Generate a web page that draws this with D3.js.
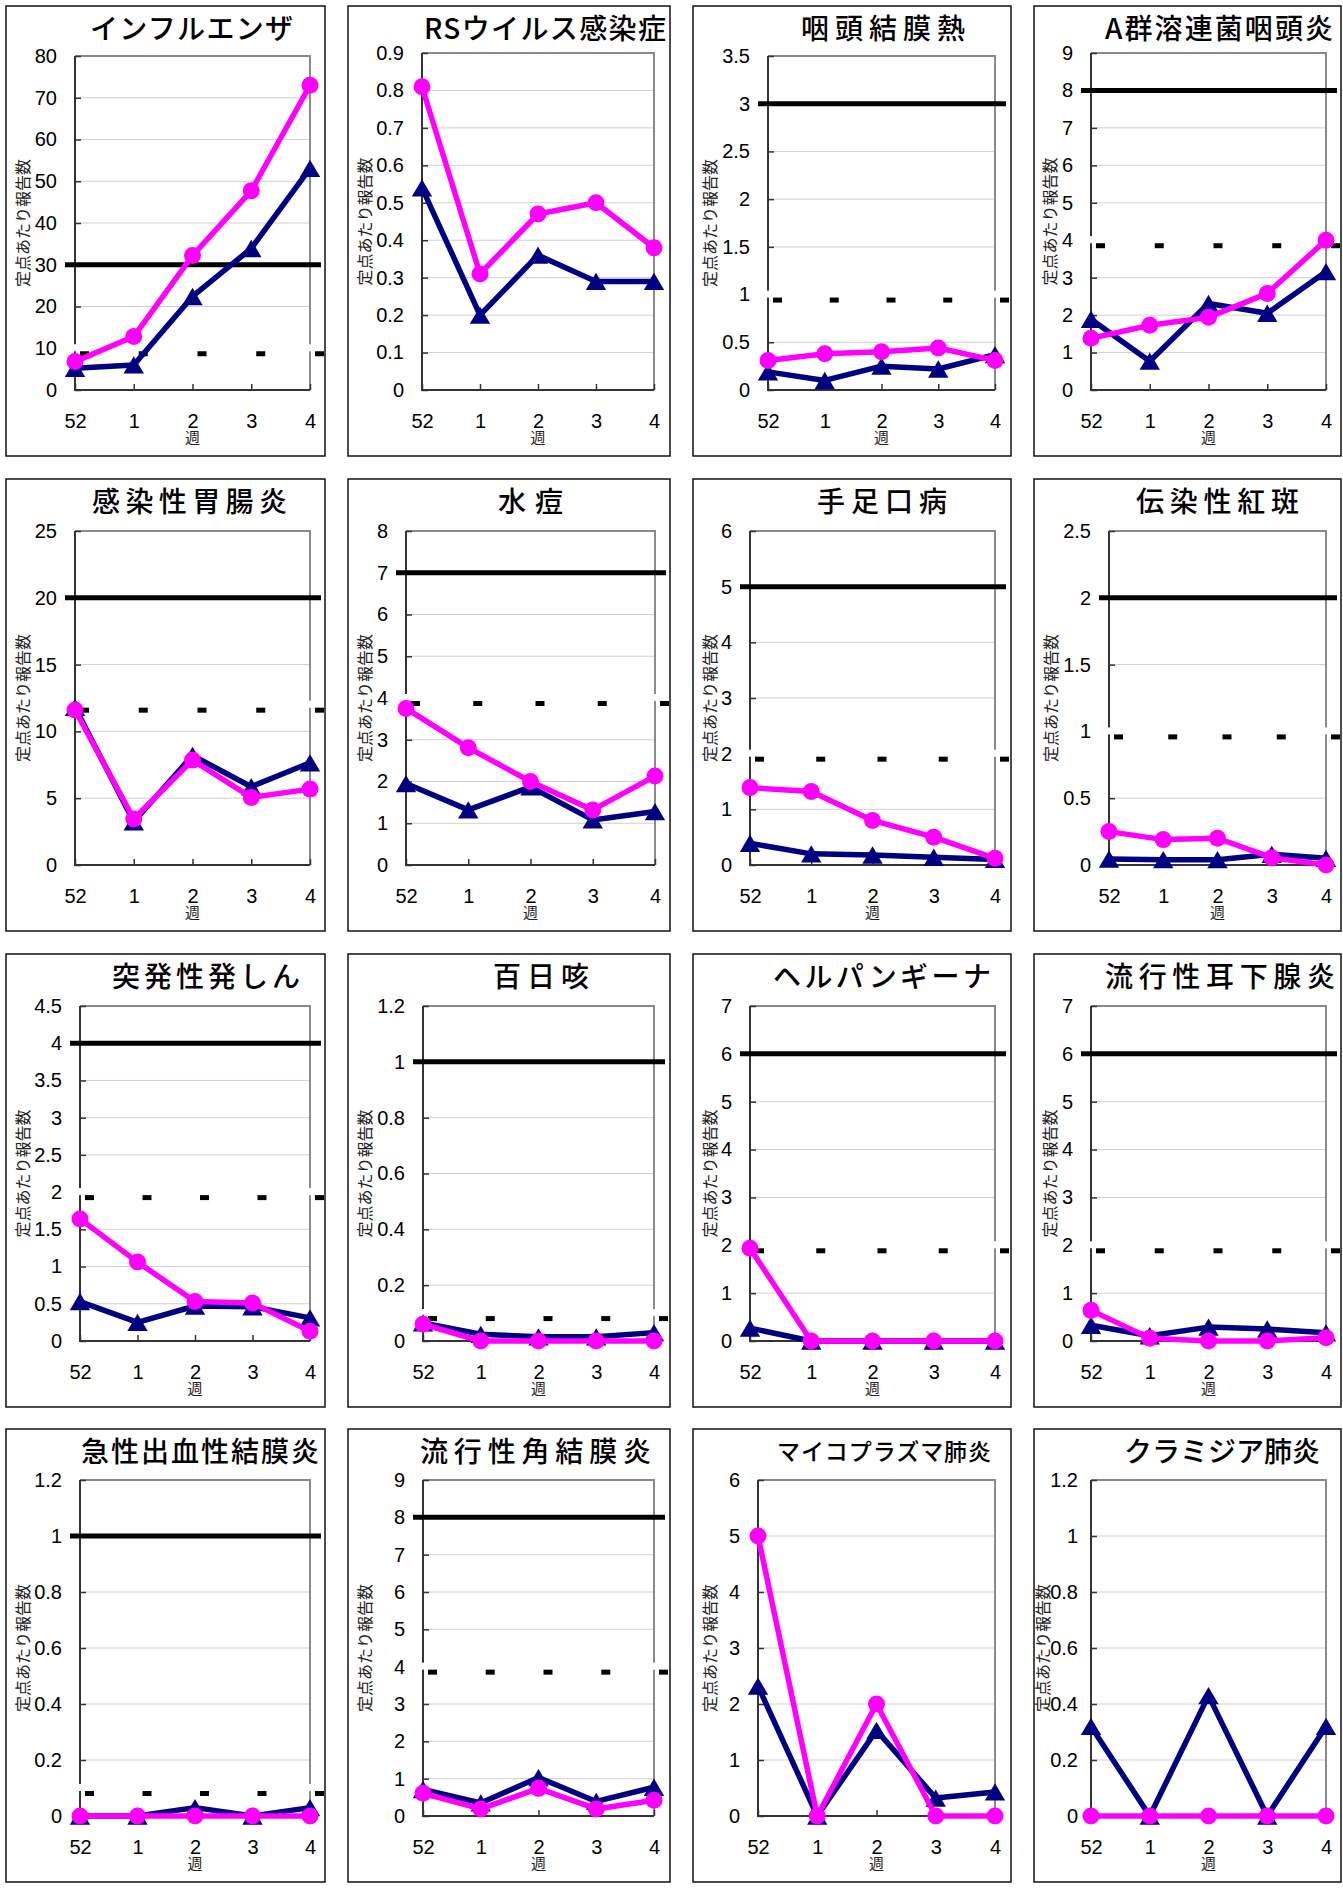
<!DOCTYPE html>
<html>
<head>
<meta charset="utf-8">
<script src="https://cdn.jsdelivr.net/npm/d3@7"></script>
<style>
  body { margin: 0; background: #fff; }
  svg { display: block; }
</style>
</head>
<body>
<svg id="chart" width="1343" height="1888"></svg>
<script>
// ---- data ----
const weeks = ["52", "1", "2", "3", "4"];

const diseaseNames = [
  "インフルエンザ", "RSウイルス感染症", "咽頭結膜熱", "A群溶連菌咽頭炎",
  "感染性胃腸炎", "水痘", "手足口病", "伝染性紅斑",
  "突発性発しん", "百日咳", "ヘルパンギーナ", "流行性耳下腺炎",
  "急性出血性結膜炎", "流行性角結膜炎", "マイコプラズマ肺炎", "クラミジア肺炎"
];

const yMaxValues  = [80, 0.9, 3.5, 9, 25, 8, 6, 2.5, 4.5, 1.2, 7, 7, 1.2, 9, 6, 1.2];
const yStepValues = [10, 0.1, 0.5, 1, 5, 1, 1, 0.5, 0.5, 0.2, 1, 1, 0.2, 1, 1, 0.2];

// alarm start level (solid) and alarm end level (dashed); null = not drawn
const alarmLevels = [30, null, 3, 8, 20, 7, 5, 2, 4, 1, 6, 6, 1, 8, null, null];
const endLevels   = [10, null, 1, 4, 12, 4, 2, 1, 2, 0.1, 2, 2, 0.1, 4, null, null];

// magenta series (circles)
const magentaValues = [
  [6.8, 12.8, 32.2, 47.7, 73.0],
  [0.81, 0.31, 0.47, 0.50, 0.38],
  [0.31, 0.38, 0.40, 0.44, 0.31],
  [1.38, 1.73, 1.94, 2.58, 4.0],
  [11.6, 3.44, 7.85, 5.06, 5.68],
  [3.75, 2.81, 2.0, 1.32, 2.13],
  [1.39, 1.32, 0.80, 0.50, 0.12],
  [0.25, 0.19, 0.20, 0.055, 0.0],
  [1.64, 1.06, 0.53, 0.51, 0.13],
  [0.06, 0, 0, 0, 0],
  [1.94, 0, 0, 0, 0],
  [0.64, 0.06, 0, 0, 0.07],
  [0, 0, 0, 0, 0],
  [0.61, 0.19, 0.74, 0.19, 0.42],
  [5.0, 0, 2.0, 0, 0],
  [0, 0, 0, 0, 0]
];

// navy series (triangles)
const navyValues = [
  [5.2, 6.0, 22.4, 33.9, 53.1],
  [0.54, 0.20, 0.36, 0.29, 0.29],
  [0.19, 0.10, 0.25, 0.22, 0.37],
  [1.89, 0.77, 2.31, 2.05, 3.16],
  [11.8, 3.24, 8.2, 5.86, 7.65],
  [1.95, 1.32, 1.87, 1.08, 1.28],
  [0.39, 0.20, 0.18, 0.14, 0.10],
  [0.045, 0.04, 0.04, 0.08, 0.05],
  [0.53, 0.25, 0.47, 0.46, 0.31],
  [0.065, 0.024, 0.015, 0.015, 0.03],
  [0.27, 0, 0, 0, 0],
  [0.33, 0.11, 0.29, 0.25, 0.17],
  [0, 0, 0.03, 0, 0.03],
  [0.71, 0.35, 1.03, 0.39, 0.77],
  [2.32, 0, 1.53, 0.32, 0.43],
  [0.32, 0, 0.43, 0, 0.32]
];

const yAxisTitle = "定点あたり報告数";
const xAxisTitle = "週";

// ---- layout ----
const colBox = [[6, 325], [348, 670], [693, 1011], [1034, 1341]];
const rowBox = [[6, 456], [479, 931], [954, 1407], [1429, 1882]];
const rowPlotBottom = [390, 865, 1341, 1816];
const plotTops = [56, 53, 56, 53, 531, 531, 531, 531, 1006, 1006, 1006, 1006, 1480, 1480, 1480, 1480];
const plotXs = [
  [75, 310], [422, 654], [768, 995], [1091, 1326],
  [75, 310], [406, 655], [750, 995], [1109, 1326],
  [80, 310], [423, 654], [750, 995], [1091, 1326],
  [80, 310], [423, 654], [758, 995], [1091, 1326]
];
// horizontal offset of the vertical axis title from the panel's left edge
const yTitleOffsets = [16, 16, 16, 15, 16, 16, 16, 16, 16, 16, 16, 15, 16, 16, 16, 8];
// gap between y tick labels and the axis
const yLabelPads = [18, 18, 18, 18, 18, 18, 18, 18, 18, 18, 18, 18, 18, 18, 18, 13];
// title left edge and width
const titleBoxes = [
  [90, 203], [424, 242], [801, 164], [1105, 228],
  [92, 195], [498, 65], [817, 130], [1136, 163],
  [112, 188], [493, 96], [773, 218], [1105, 230],
  [81, 238], [420, 231], [777, 214], [1124, 196]
];
const titleSizes = [28, 28, 28, 28, 28, 28, 28, 28, 28, 28, 28, 28, 28, 28, 23, 28];

const MAGENTA = "#ff00ff";
const NAVY = "#000080";
const NUM_FONT = "'Liberation Sans', Arial, sans-serif";
const JP_FONT = "'Noto Sans CJK JP', 'Noto Sans', sans-serif";

// triangle marker centred on its bounding box
const triangleMarker = {
  draw(ctx, size) {
    const w = Math.sqrt(size) * 1.5, h = w * 0.85;
    ctx.moveTo(0, -h / 2);
    ctx.lineTo(w / 2, h / 2);
    ctx.lineTo(-w / 2, h / 2);
    ctx.closePath();
  }
};

const svg = d3.select("#chart");

diseaseNames.forEach((name, i) => {
  const r = Math.floor(i / 4), c = i % 4;
  const [bx0, bx1] = colBox[c];
  const [by0, by1] = rowBox[r];
  const [left, right] = plotXs[i];
  const top = plotTops[i];
  const bottom = rowPlotBottom[r];

  const g = svg.append("g");

  // panel frame
  g.append("rect")
    .attr("x", bx0).attr("y", by0)
    .attr("width", bx1 - bx0).attr("height", by1 - by0)
    .attr("fill", "#fff").attr("stroke", "#111").attr("stroke-width", 1.5);

  const x = d3.scalePoint().domain(weeks).range([left, right]);
  const y = d3.scaleLinear().domain([0, yMaxValues[i]]).range([bottom, top]);
  const nTicks = Math.round(yMaxValues[i] / yStepValues[i]);
  const yTicks = d3.range(0, nTicks + 1).map(k => +(k * yStepValues[i]).toFixed(3));

  // gridlines
  g.append("g").selectAll("line")
    .data(yTicks.slice(1, -1))
    .join("line")
    .attr("x1", left).attr("x2", right)
    .attr("y1", d => y(d)).attr("y2", d => y(d))
    .attr("stroke", "#cfcfcf").attr("stroke-width", 1);

  // plot-area border: top/right grey, left/bottom dark
  g.append("path")
    .attr("d", `M${left},${top}H${right}V${bottom}`)
    .attr("fill", "none").attr("stroke", "#8a8a8a").attr("stroke-width", 2);
  g.append("path")
    .attr("d", `M${left},${top}V${bottom}H${right}`)
    .attr("fill", "none").attr("stroke", "#333").attr("stroke-width", 2);

  // y axis: inward ticks + labels
  const yAxis = d3.axisLeft(y).tickValues(yTicks).tickSizeInner(-6).tickSizeOuter(0)
    .tickPadding(yLabelPads[i]).tickFormat(d => String(d));
  const ya = g.append("g").attr("transform", `translate(${left},0)`).call(yAxis);
  ya.select(".domain").remove();
  ya.selectAll(".tick line").attr("stroke", "#333").attr("stroke-width", 1.5);
  ya.selectAll(".tick text")
    .attr("font-family", NUM_FONT).attr("font-size", 20).attr("fill", "#000");

  // x axis: inward ticks + labels
  const xAxis = d3.axisBottom(x).tickSizeInner(-6).tickSizeOuter(0).tickPadding(24);
  const xa = g.append("g").attr("transform", `translate(0,${bottom})`).call(xAxis);
  xa.select(".domain").remove();
  xa.selectAll(".tick line").attr("stroke", "#333").attr("stroke-width", 1.5);
  xa.selectAll(".tick text")
    .attr("font-family", NUM_FONT).attr("font-size", 20).attr("fill", "#000");

  // axis titles
  g.append("text")
    .attr("x", x("2")).attr("y", bottom + 46)
    .attr("text-anchor", "middle").attr("dominant-baseline", "central")
    .attr("font-family", JP_FONT).attr("font-size", 15).attr("fill", "#222")
    .text(xAxisTitle);

  g.append("text")
    .attr("transform", `translate(${bx0 + yTitleOffsets[i]},${(top + bottom) / 2}) rotate(-90)`)
    .attr("text-anchor", "middle").attr("dominant-baseline", "central")
    .attr("font-family", JP_FONT).attr("font-size", 16).attr("fill", "#222")
    .text(yAxisTitle);

  // panel title
  const [tx, tw] = titleBoxes[i];
  g.append("text")
    .attr("x", tx).attr("y", by0 + 21)
    .attr("dominant-baseline", "central")
    .attr("font-family", JP_FONT).attr("font-size", titleSizes[i])
    .attr("font-weight", 500).attr("fill", "#000")
    .attr("textLength", tw).attr("lengthAdjust", "spacing")
    .text(name);

  // alarm end level: white band with black dashes just below it
  if (endLevels[i] != null) {
    const v = endLevels[i];
    g.append("rect")
      .attr("x", left - 10).attr("y", y(v) - 4)
      .attr("width", right - left + 21).attr("height", 7)
      .attr("fill", "#fff");
    g.append("g").selectAll("line")
      .data(weeks)
      .join("line")
      .attr("x1", d => x(d) + 5).attr("x2", d => x(d) + 14)
      .attr("y1", y(v) + 5.5).attr("y2", y(v) + 5.5)
      .attr("stroke", "#000").attr("stroke-width", 5);
  }

  // alarm start level: solid black line
  if (alarmLevels[i] != null) {
    const v = alarmLevels[i];
    g.append("line")
      .attr("x1", left - 10).attr("x2", right + 11)
      .attr("y1", y(v)).attr("y2", y(v))
      .attr("stroke", "#000").attr("stroke-width", 5);
  }

  const line = d3.line().x((d, k) => x(weeks[k])).y(d => y(d));

  // navy series
  g.append("path")
    .datum(navyValues[i])
    .attr("d", line)
    .attr("fill", "none").attr("stroke", NAVY).attr("stroke-width", 5.5)
    .attr("stroke-linejoin", "round");
  g.append("g").selectAll("path")
    .data(navyValues[i])
    .join("path")
    .attr("transform", (d, k) => `translate(${x(weeks[k])},${y(d)})`)
    .attr("d", d3.symbol().type(triangleMarker).size(185))
    .attr("fill", NAVY);

  // magenta series
  g.append("path")
    .datum(magentaValues[i])
    .attr("d", line)
    .attr("fill", "none").attr("stroke", MAGENTA).attr("stroke-width", 5.5)
    .attr("stroke-linejoin", "round");
  g.append("g").selectAll("circle")
    .data(magentaValues[i])
    .join("circle")
    .attr("cx", (d, k) => x(weeks[k])).attr("cy", d => y(d))
    .attr("r", 8.5)
    .attr("fill", MAGENTA);
});
</script>
</body>
</html>
